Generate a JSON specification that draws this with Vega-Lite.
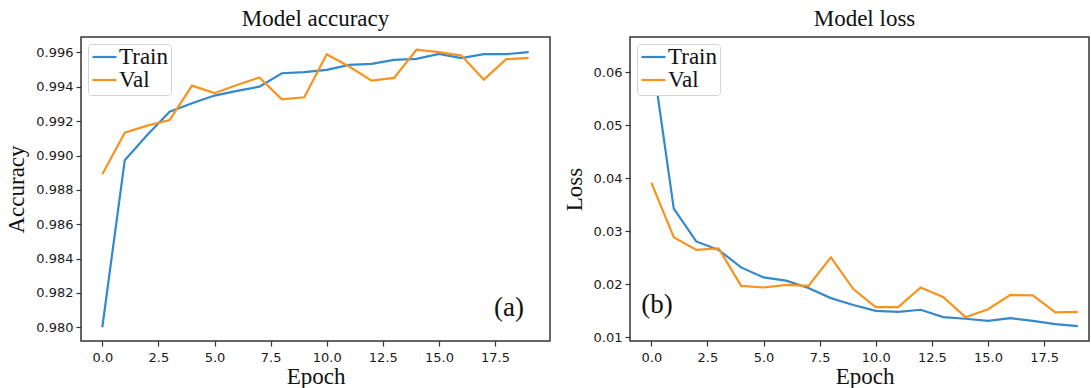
{
  "$schema": "https://vega.github.io/schema/vega-lite/v6.json",
  "padding": {"left": 5, "top": 7, "right": 0, "bottom": 0},
  "background": "white",
  "datasets": {
    "history": [
      {"epoch": 0, "set": "Train", "accuracy": 0.98000, "loss": 0.0641},
      {"epoch": 1, "set": "Train", "accuracy": 0.98973, "loss": 0.0343},
      {"epoch": 2, "set": "Train", "accuracy": 0.99119, "loss": 0.0281},
      {"epoch": 3, "set": "Train", "accuracy": 0.99255, "loss": 0.0265},
      {"epoch": 4, "set": "Train", "accuracy": 0.99304, "loss": 0.0232},
      {"epoch": 5, "set": "Train", "accuracy": 0.99349, "loss": 0.0213},
      {"epoch": 6, "set": "Train", "accuracy": 0.99376, "loss": 0.0207},
      {"epoch": 7, "set": "Train", "accuracy": 0.99401, "loss": 0.0193},
      {"epoch": 8, "set": "Train", "accuracy": 0.99479, "loss": 0.0174},
      {"epoch": 9, "set": "Train", "accuracy": 0.99485, "loss": 0.0161},
      {"epoch": 10, "set": "Train", "accuracy": 0.99499, "loss": 0.0150},
      {"epoch": 11, "set": "Train", "accuracy": 0.99528, "loss": 0.0148},
      {"epoch": 12, "set": "Train", "accuracy": 0.99534, "loss": 0.0152},
      {"epoch": 13, "set": "Train", "accuracy": 0.99557, "loss": 0.0138},
      {"epoch": 14, "set": "Train", "accuracy": 0.99563, "loss": 0.0135},
      {"epoch": 15, "set": "Train", "accuracy": 0.99592, "loss": 0.0131},
      {"epoch": 16, "set": "Train", "accuracy": 0.99567, "loss": 0.0136},
      {"epoch": 17, "set": "Train", "accuracy": 0.99590, "loss": 0.0131},
      {"epoch": 18, "set": "Train", "accuracy": 0.99590, "loss": 0.0125},
      {"epoch": 19, "set": "Train", "accuracy": 0.99602, "loss": 0.0121},
      {"epoch": 0, "set": "Val", "accuracy": 0.98891, "loss": 0.0392},
      {"epoch": 1, "set": "Val", "accuracy": 0.99133, "loss": 0.0289},
      {"epoch": 2, "set": "Val", "accuracy": 0.99174, "loss": 0.0265},
      {"epoch": 3, "set": "Val", "accuracy": 0.99207, "loss": 0.0268},
      {"epoch": 4, "set": "Val", "accuracy": 0.99407, "loss": 0.0197},
      {"epoch": 5, "set": "Val", "accuracy": 0.99363, "loss": 0.0194},
      {"epoch": 6, "set": "Val", "accuracy": 0.99411, "loss": 0.0199},
      {"epoch": 7, "set": "Val", "accuracy": 0.99454, "loss": 0.0197},
      {"epoch": 8, "set": "Val", "accuracy": 0.99327, "loss": 0.0251},
      {"epoch": 9, "set": "Val", "accuracy": 0.99339, "loss": 0.0191},
      {"epoch": 10, "set": "Val", "accuracy": 0.99590, "loss": 0.0157},
      {"epoch": 11, "set": "Val", "accuracy": 0.99518, "loss": 0.0157},
      {"epoch": 12, "set": "Val", "accuracy": 0.99436, "loss": 0.0194},
      {"epoch": 13, "set": "Val", "accuracy": 0.99452, "loss": 0.0176},
      {"epoch": 14, "set": "Val", "accuracy": 0.99616, "loss": 0.0138},
      {"epoch": 15, "set": "Val", "accuracy": 0.99602, "loss": 0.0153},
      {"epoch": 16, "set": "Val", "accuracy": 0.99582, "loss": 0.0180},
      {"epoch": 17, "set": "Val", "accuracy": 0.99442, "loss": 0.0179},
      {"epoch": 18, "set": "Val", "accuracy": 0.99561, "loss": 0.0147},
      {"epoch": 19, "set": "Val", "accuracy": 0.99569, "loss": 0.0148}
    ],
    "notes": [
      {"label": "(a)", "epoch": 18.12, "accuracy": 0.9811, "loss": 0.0161},
      {"label": "(b)", "epoch": 0.25, "accuracy": 0.9811, "loss": 0.0161}
    ]
  },
  "spacing": 80,
  "bounds": "flush",
  "resolve": {"scale": {"color": "independent", "x": "independent", "y": "independent"}, "legend": {"color": "independent"}},
  "hconcat": [
    {
      "width": 469,
      "height": 304,
      "title": {"text": "Model accuracy"},
      "layer": [
        {
          "data": {"name": "history"},
          "mark": {"type": "line", "strokeWidth": 2.2},
          "encoding": {
            "x": {"field": "epoch", "type": "quantitative", "title": "Epoch",
                  "scale": {"domain": [-0.95, 19.95], "nice": false, "zero": false},
                  "axis": {"values": [0, 2.5, 5, 7.5, 10, 12.5, 15, 17.5], "format": ".1f", "labelOverlap": false}},
            "y": {"field": "accuracy", "type": "quantitative", "title": "Accuracy",
                  "scale": {"domain": [0.9792, 0.9969], "nice": false, "zero": false},
                  "axis": {"values": [0.980, 0.982, 0.984, 0.986, 0.988, 0.990, 0.992, 0.994, 0.996], "format": ".3f", "labelOverlap": false, "tickCount": 9}},
            "color": {"field": "set", "type": "nominal",
                      "scale": {"domain": ["Train", "Val"], "range": ["#3389cb", "#f7931e"]},
                      "legend": {"title": null, "orient": "top-left", "offset": 7}}
          }
        },
        {
          "data": {"name": "notes"},
          "transform": [{"filter": "datum.label === '(a)'"}],
          "mark": {"type": "text", "font": "Liberation Serif", "fontSize": 27, "color": "#111", "align": "center", "baseline": "middle"},
          "encoding": {
            "x": {"field": "epoch", "type": "quantitative"},
            "y": {"field": "accuracy", "type": "quantitative"},
            "text": {"field": "label"}
          }
        }
      ]
    },
    {
      "width": 459,
      "height": 304,
      "title": {"text": "Model loss", "dx": 5},
      "layer": [
        {
          "data": {"name": "history"},
          "mark": {"type": "line", "strokeWidth": 2.2},
          "encoding": {
            "x": {"field": "epoch", "type": "quantitative", "title": "Epoch",
                  "scale": {"domain": [-0.95, 19.5], "nice": false, "zero": false},
                  "axis": {"values": [0, 2.5, 5, 7.5, 10, 12.5, 15, 17.5], "format": ".1f", "titleX": 234.5, "labelOverlap": false}},
            "y": {"field": "loss", "type": "quantitative", "title": "Loss",
                  "scale": {"domain": [0.0093, 0.0667], "nice": false, "zero": false},
                  "axis": {"values": [0.01, 0.02, 0.03, 0.04, 0.05, 0.06], "format": ".2f", "labelOverlap": false}},
            "color": {"field": "set", "type": "nominal",
                      "scale": {"domain": ["Train", "Val"], "range": ["#3389cb", "#f7931e"]},
                      "legend": {"title": null, "orient": "top-left", "offset": 7}}
          }
        },
        {
          "data": {"name": "notes"},
          "transform": [{"filter": "datum.label === '(b)'"}],
          "mark": {"type": "text", "font": "Liberation Serif", "fontSize": 27, "color": "#111", "align": "center", "baseline": "middle"},
          "encoding": {
            "x": {"field": "epoch", "type": "quantitative"},
            "y": {"field": "loss", "type": "quantitative"},
            "text": {"field": "label"}
          }
        }
      ]
    }
  ],
  "config": {
    "view": {"stroke": "#333333", "strokeWidth": 1.5},
    "axis": {
      "domain": false, "grid": false, "labelOverlap": false, "labelBound": false,
      "tickColor": "#333333", "tickSize": 5, "tickWidth": 1.2,
      "labelFont": "DejaVu Sans", "labelFontSize": 13, "labelColor": "#1a1a1a",
      "titleFont": "Liberation Serif", "titleFontSize": 23, "titleFontWeight": "normal", "titleColor": "#111111"
    },
    "axisX": {"labelPadding": 5, "titlePadding": 1},
    "axisY": {"labelPadding": 3, "titlePadding": 7},
    "title": {"font": "Liberation Serif", "fontSize": 23, "fontWeight": "normal", "color": "#111111", "offset": 6, "anchor": "middle"},
    "legend": {
      "symbolType": "stroke", "symbolSize": 576, "symbolStrokeWidth": 2.2,
      "labelFont": "Liberation Serif", "labelFontSize": 23, "labelColor": "#111111",
      "labelOffset": 1, "rowPadding": 0, "clipHeight": 20, "padding": 3,
      "fillColor": "white", "strokeColor": "#d4d4d4", "cornerRadius": 3
    }
  }
}
